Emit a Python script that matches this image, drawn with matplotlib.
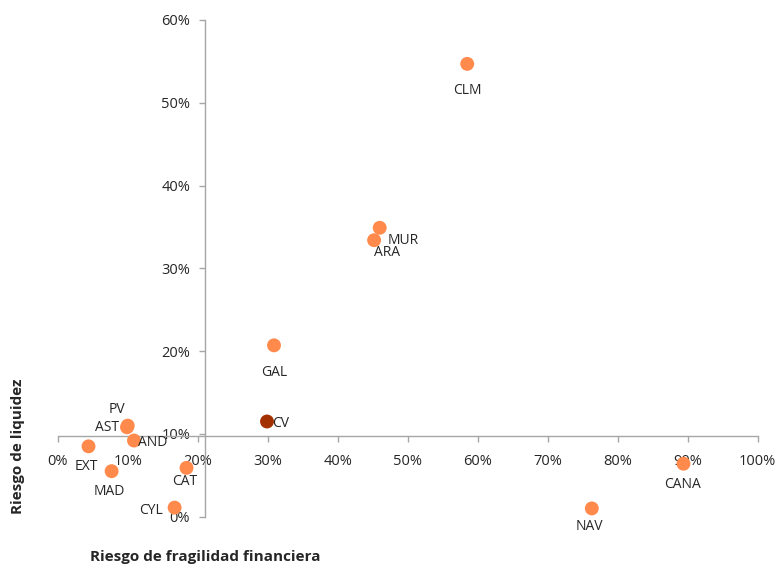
import matplotlib.pyplot as plt

plt.rcParams['font.family'] = ['Open Sans', 'DejaVu Sans']

# Data
regions = ['CLM', 'MUR', 'ARA', 'GAL', 'CV', 'PV', 'AST', 'AND', 'EXT',
           'MAD', 'CAT', 'CYL', 'CANA', 'NAV']
fragilidad = [0.585, 0.460, 0.452, 0.309, 0.299, 0.100, 0.099, 0.109, 0.044,
              0.077, 0.184, 0.167, 0.894, 0.763]
liquidez = [0.547, 0.349, 0.334, 0.207, 0.115, 0.110, 0.108, 0.092, 0.085,
            0.055, 0.059, 0.011, 0.064, 0.010]
x_ticks = [0.0, 0.1, 0.2, 0.3, 0.4, 0.5, 0.6, 0.7, 0.8, 0.9, 1.0]
y_ticks = [0.0, 0.1, 0.2, 0.3, 0.4, 0.5, 0.6]

# label offsets in points and alignment
label_pos = {
    'CLM': (0, -19.5, 'center'), 'MUR': (6, -9, 'left'), 'ARA': (9, -9, 'center'),
    'GAL': (0, -19.5, 'center'), 'CV': (4, -1.5, 'left'), 'PV': (-8, 11.5, 'center'),
    'AST': (-6, 0, 'right'), 'AND': (3, -1.5, 'left'), 'EXT': (-1.5, -14.5, 'center'),
    'MAD': (-1.5, -14.5, 'center'), 'CAT': (-1.5, -10, 'center'),
    'CYL': (-8.5, -2, 'right'), 'CANA': (-1, -15, 'center'), 'NAV': (-1.5, -13, 'center'),
}

orange = '#FF8A4C'
dark = '#A33000'
axis_color = '#A6A6A6'
text_color = '#262626'

fig = plt.figure(figsize=(7.8, 5.66), dpi=100, facecolor='white')
ax = fig.add_axes([0.074, 0.0871, 0.8974, 0.8776])

colors = [dark if r == 'CV' else orange for r in regions]
ax.scatter(fragilidad, liquidez, s=100, c=colors, edgecolors='none',
           zorder=3, clip_on=False)

for r, x, y in zip(regions, fragilidad, liquidez):
    dx, dy, ha = label_pos[r]
    ax.annotate(r, (x, y), xytext=(dx, dy), textcoords='offset points',
                ha=ha, va='center', fontsize=10, color=text_color, zorder=4)

ax.set_xlim(0, 1)
ax.set_ylim(0, 0.6)
ax.set_xticks(x_ticks)
ax.set_yticks(y_ticks)
ax.set_xticklabels([f'{int(round(t * 100))}%' for t in x_ticks])
ax.set_yticklabels([f'{int(round(t * 100))}%' for t in y_ticks])

ax.spines['left'].set_position(('data', 0.21))
ax.spines['bottom'].set_position(('data', 0.097))
for s in ['top', 'right']:
    ax.spines[s].set_visible(False)
for s in ['left', 'bottom']:
    ax.spines[s].set_color(axis_color)
    ax.spines[s].set_linewidth(1)

ax.tick_params(axis='both', colors=axis_color, direction='out', length=4.5,
               width=1, labelsize=10.5, labelcolor=text_color)
ax.tick_params(axis='x', pad=8)
ax.tick_params(axis='y', pad=6)
ax.set_facecolor('none')

fig.text(0.023, 0.212, 'Riesgo de liquidez', rotation=90, ha='center', va='center',
         fontsize=11, fontweight='bold', color=text_color)
fig.text(0.263, 0.0164, 'Riesgo de fragilidad financiera', ha='center', va='center',
         fontsize=11, fontweight='bold', color=text_color)

fig.savefig('out.png', dpi=100, facecolor='white')
